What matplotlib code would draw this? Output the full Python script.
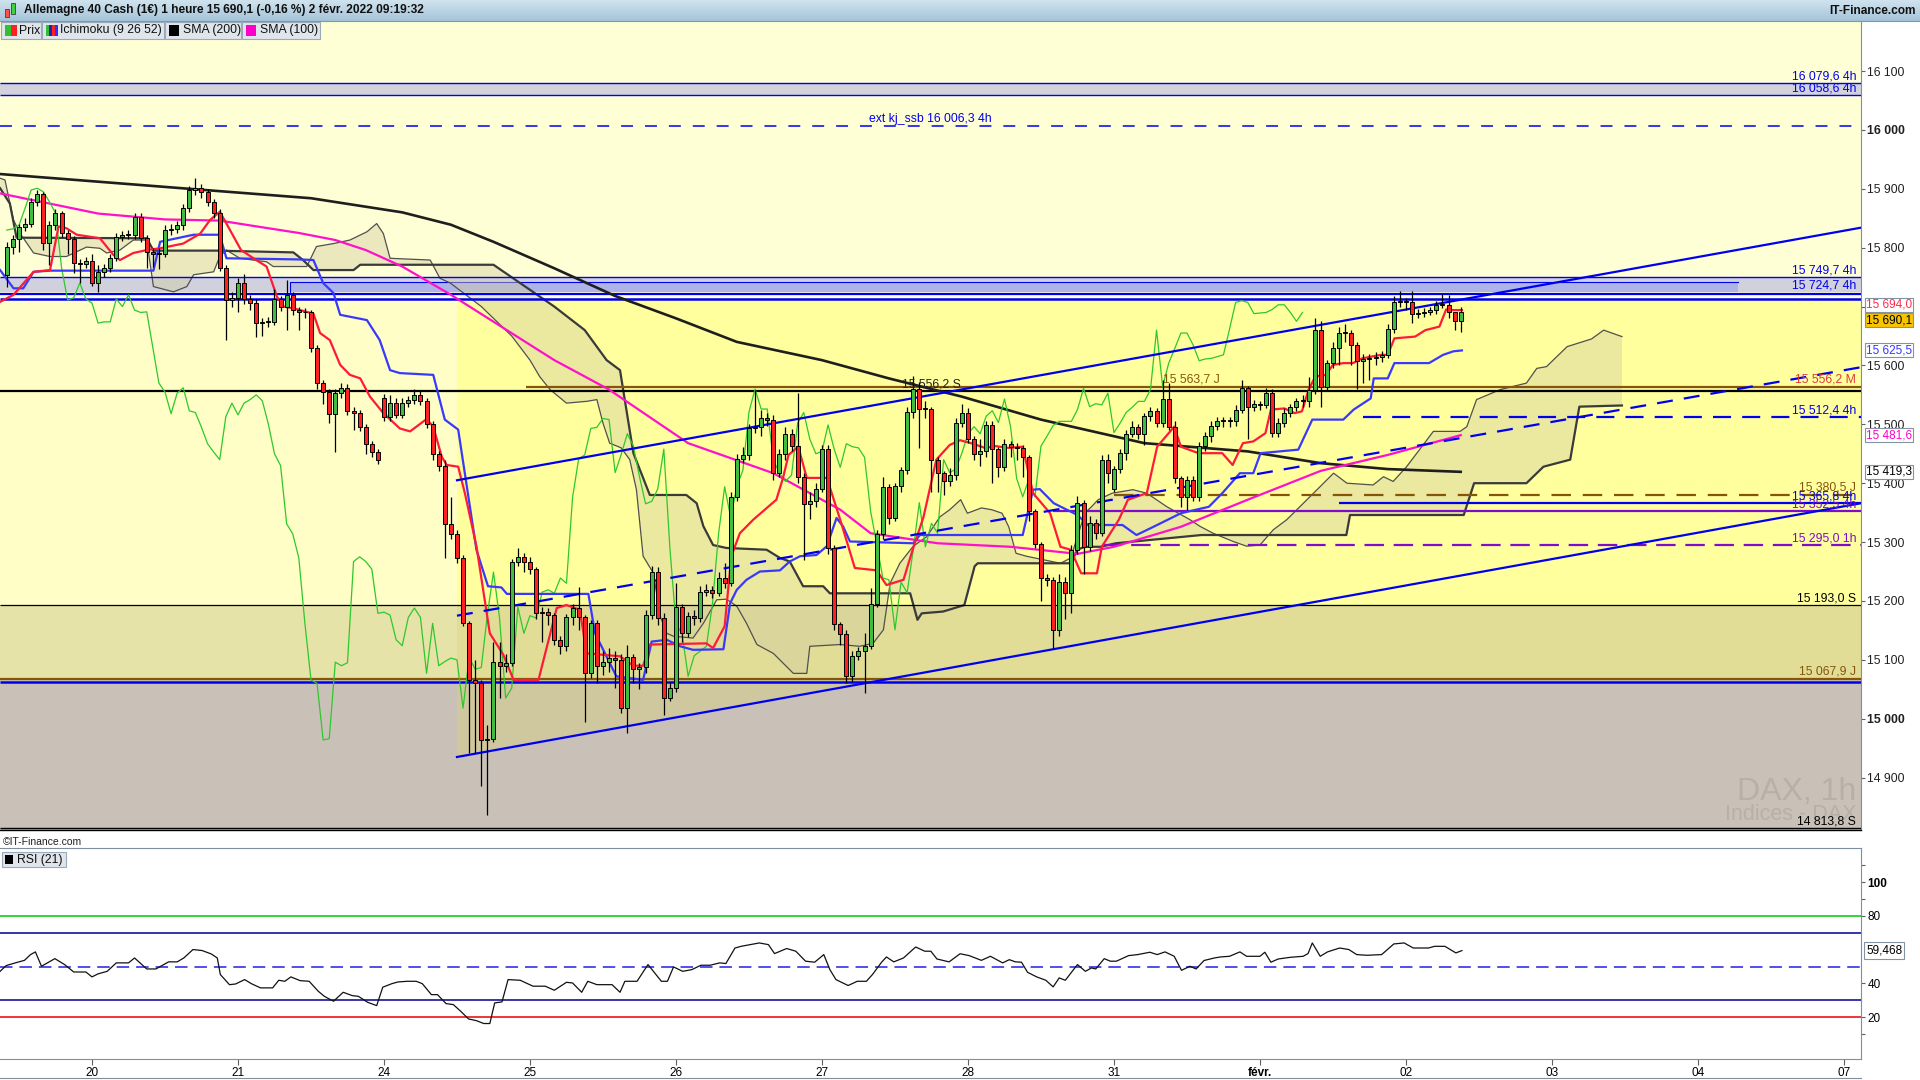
import numpy as np
import matplotlib.pyplot as plt
from matplotlib.patches import Rectangle, Polygon
from matplotlib.colors import LinearSegmentedColormap
import matplotlib.transforms as mtransforms

plt.rcParams['font.family'] = ['Liberation Sans', 'DejaVu Sans']
plt.rcParams['lines.scale_dashes'] = False

# hourly candles, bar 0 = 19 jan 10:00, 24 bars a day
closes = [
    15801, 15815, 15835, 15840, 15878, 15891, 15808, 15838, 15859, 15825, 15815, 15774, 15772, 15777,
    15740, 15759, 15765, 15783, 15818, 15822, 15822, 15852, 15817, 15793, 15790, 15790, 15830, 15832, 15838, 15867, 15898, 15901, 15895, 15878, 15859, 15766, 15711, 15715,
    15740, 15713, 15706, 15672, 15674, 15674, 15713, 15700, 15720, 15694, 15690, 15691, 15630, 15570, 15555, 15518, 15553, 15562, 15523, 15520, 15495, 15467, 15453, 15440,
    15513, 15536, 15516, 15536, 15542, 15550, 15540, 15500, 15450, 15430, 15331, 15314, 15273, 15162, 15066, 15060, 14964, 14966, 15096, 15090, 15095, 15267, 15275, 15267,
    15254, 15179, 15181, 15176, 15134, 15124, 15172, 15188, 15172, 15077, 15162, 15090, 15097, 15103, 15100, 15018, 15104, 15084, 15087, 15177, 15249, 15171, 15035, 15052,
    15190, 15145, 15175, 15171, 15215, 15219, 15213, 15239, 15230, 15376, 15441, 15448, 15493, 15495, 15510, 15508, 15418, 15449, 15484, 15463, 15411, 15365, 15369, 15390,
    15458, 15290, 15161, 15144, 15072, 15107, 15115, 15123, 15195, 15314, 15394, 15341, 15395, 15422, 15521, 15560, 15526, 15526, 15440, 15417, 15403, 15414, 15502, 15520,
    15475, 15450, 15454, 15499, 15458, 15427, 15467, 15462, 15460, 15444, 15352, 15297, 15239, 15236, 15151, 15232, 15214, 15287, 15367, 15292, 15332, 15315, 15440, 15418,
    15424, 15451, 15484, 15496, 15484, 15514, 15523, 15503, 15543, 15496, 15408, 15377, 15406, 15377, 15463, 15480, 15498, 15505, 15505, 15505, 15525, 15561, 15530, 15535,
    15533, 15553, 15486, 15502, 15520, 15529, 15539, 15539, 15559, 15660, 15564, 15604, 15629, 15655, 15655, 15635, 15608, 15611, 15612, 15615, 15618, 15662, 15707, 15710,
    15707, 15688, 15689, 15690, 15695, 15703, 15703, 15690, 15675, 15690.1]
highs = [
    15810, 15822, 15840, 15850, 15884, 15898, 15895, 15845, 15866, 15862, 15830, 15820, 15780, 15785,
    15790, 15770, 15772, 15790, 15825, 15828, 15830, 15859, 15859, 15822, 15800, 15800, 15838, 15840, 15845, 15874, 15905, 15918, 15908, 15900, 15883, 15865, 15770, 15725,
    15748, 15755, 15720, 15712, 15680, 15682, 15730, 15718, 15745, 15725, 15700, 15698, 15695, 15635, 15575, 15560, 15560, 15570, 15568, 15530, 15525, 15500, 15472, 15458,
    15552, 15550, 15545, 15545, 15548, 15560, 15556, 15545, 15505, 15455, 15440, 15377, 15320, 15278, 15166, 15100, 15065, 14990, 15131, 15131, 15110, 15272, 15290, 15282,
    15275, 15258, 15190, 15188, 15180, 15140, 15178, 15195, 15223, 15176, 15168, 15168, 15115, 15120, 15115, 15110, 15125, 15110, 15095, 15185, 15260, 15258, 15180, 15062,
    15230, 15195, 15182, 15185, 15225, 15228, 15226, 15250, 15264, 15385, 15450, 15462, 15500, 15558, 15525, 15520, 15515, 15458, 15495, 15492, 15553, 15418, 15385, 15400,
    15465, 15465, 15295, 15165, 15150, 15115, 15122, 15145, 15222, 15320, 15410, 15398, 15400, 15428, 15530, 15582, 15572, 15540, 15530, 15445, 15420, 15425, 15510, 15535,
    15528, 15480, 15475, 15505, 15505, 15462, 15475, 15472, 15468, 15465, 15448, 15356, 15300, 15245, 15240, 15245, 15240, 15295, 15378, 15372, 15345, 15340, 15448, 15450,
    15430, 15458, 15490, 15505, 15500, 15520, 15530, 15528, 15575, 15570, 15505, 15412, 15412, 15412, 15470, 15487, 15505, 15512, 15512, 15512, 15532, 15575, 15565, 15542,
    15540, 15562, 15560, 15510, 15528, 15535, 15545, 15550, 15580, 15680, 15675, 15610, 15640, 15665, 15670, 15660, 15640, 15620, 15620, 15622, 15625, 15670, 15718, 15727,
    15715, 15727, 15696, 15697, 15700, 15710, 15722, 15720, 15690, 15700]
lows = [
    15733, 15790, 15793, 15828, 15835, 15870, 15796, 15770, 15830, 15818, 15790, 15757, 15740, 15765,
    15735, 15725, 15750, 15758, 15778, 15812, 15815, 15815, 15810, 15765, 15767, 15764, 15785, 15822, 15825, 15830, 15860, 15890, 15885, 15870, 15850, 15760, 15643, 15700,
    15690, 15705, 15695, 15648, 15650, 15665, 15668, 15692, 15660, 15685, 15660, 15680, 15622, 15560, 15535, 15502, 15453, 15545, 15515, 15490, 15488, 15450, 15445, 15432,
    15505, 15505, 15510, 15510, 15530, 15535, 15532, 15494, 15440, 15420, 15273, 15305, 15265, 15158, 14942, 14942, 14885, 14837, 14960, 15035, 15080, 15090, 15260, 15250,
    15245, 15170, 15131, 15160, 15125, 15110, 15115, 15160, 15150, 14995, 15070, 15060, 15075, 15080, 15052, 15010, 14976, 15060, 15050, 15078, 15170, 15160, 15007, 15030,
    15045, 15130, 15138, 15160, 15165, 15208, 15205, 15208, 15222, 15225, 15370, 15435, 15440, 15485, 15480, 15498, 15405, 15410, 15440, 15455, 15400, 15270, 15340, 15360,
    15385, 15280, 15150, 15125, 15060, 15062, 15100, 15043, 15118, 15190, 15305, 15330, 15335, 15385, 15415, 15510, 15460, 15510, 15385, 15385, 15380, 15395, 15405, 15495,
    15468, 15440, 15430, 15445, 15400, 15410, 15420, 15445, 15440, 15410, 15335, 15290, 15200, 15225, 15120, 15140, 15170, 15180, 15280, 15245, 15285, 15305, 15310, 15400,
    15385, 15418, 15440, 15478, 15475, 15465, 15505, 15495, 15495, 15490, 15400, 15360, 15355, 15370, 15370, 15455, 15470, 15490, 15495, 15495, 15498, 15520, 15475, 15522,
    15525, 15528, 15478, 15478, 15495, 15512, 15522, 15530, 15530, 15552, 15530, 15558, 15595, 15600, 15640, 15600, 15560, 15570, 15575, 15600, 15605, 15612, 15655, 15700,
    15695, 15672, 15680, 15682, 15685, 15688, 15698, 15680, 15660, 15657]
first_open = 15754
gap_opens = {62: 15545, 182: 15391}

day_ticks = [14, 38, 62, 86, 110, 134, 158, 182, 206, 230, 254, 278, 302]
day_labels = ['20', '21', '24', '25', '26', '27', '28', '31', 'févr.', '02', '03', '04', '07']

sma200_pts = [(-1, 15925), (30, 15900), (50, 15884), (65, 15860), (73, 15839), (80, 15810), (90, 15765),
              (100, 15718), (110, 15680), (120, 15640), (134, 15609), (145, 15578), (157, 15547), (170, 15508),
              (187, 15468), (204, 15454), (216, 15434), (227, 15424), (239, 15419.3)]
sma100_pts = [(-1, 15892), (15, 15858), (26, 15848), (35, 15846), (43, 15833), (48, 15825), (54, 15813),
              (59, 15796), (65, 15768), (73, 15720), (90, 15609), (99, 15559), (112, 15468), (126, 15417),
              (137, 15355), (142, 15315), (153, 15298), (165, 15292), (176, 15280), (182, 15292), (193, 15326),
              (204, 15372), (216, 15421), (227, 15448), (239, 15481.6)]
tenkan_pts = [(-1.1, 15708), (1.1, 15720), (4.4, 15759), (7.1, 15762), (8.5, 15836), (9.8, 15833), (11.5, 15822),
              (15.3, 15816), (17.5, 15788), (18.6, 15779), (20.8, 15791), (23, 15796), (25.2, 15799), (29, 15807),
              (31.8, 15824), (33.4, 15847), (35, 15861), (36.1, 15841), (38.5, 15796), (41, 15779), (42.7, 15768),
              (44.4, 15717), (45.5, 15700), (47.1, 15697), (49.3, 15691), (50.4, 15688), (51.5, 15655), (53.1, 15643),
              (54.8, 15601), (56.4, 15584), (58.1, 15578), (59.7, 15547), (61.9, 15519), (64.6, 15493), (66.3, 15488),
              (69, 15509), (70.1, 15496), (71.5, 15445), (72.3, 15431), (74.2, 15428), (75.3, 15383), (77.2, 15293),
              (79.4, 15145), (81.6, 15109), (83.3, 15066), (87.4, 15066), (90.4, 15188), (92, 15193), (94.2, 15185),
              (95.3, 15111), (100.8, 15106), (103, 15090), (104.6, 15090), (105.7, 15126), (115, 15128), (116.1, 15120),
              (118, 15157), (119.1, 15276), (120.5, 15315), (122.7, 15338), (126.5, 15372), (127.6, 15409),
              (128.5, 15448), (130.1, 15462), (131.5, 15409), (134.8, 15409), (137, 15338), (139.4, 15256),
              (143, 15252), (144.6, 15227), (147.4, 15236), (149, 15290), (150.7, 15343), (152.8, 15440), (155, 15465),
              (156.7, 15473), (158.5, 15468), (160.8, 15460), (162.5, 15463), (164.7, 15460), (167, 15462),
              (168.7, 15383), (171.5, 15349), (173.2, 15292), (174.9, 15287), (176.6, 15247), (179.2, 15247),
              (180, 15292), (182.8, 15338), (184.3, 15372), (187.4, 15383), (189.1, 15462), (191.9, 15496), (193, 15462),
              (195.9, 15451), (199.8, 15451), (201.5, 15431), (203.2, 15468), (204.9, 15471), (206.9, 15485),
              (207.8, 15525), (210, 15527), (211.7, 15519), (212.9, 15522), (214, 15559), (215.1, 15581), (216.8, 15584),
              (218, 15601), (219.7, 15604), (221.3, 15604), (222.8, 15612), (225.9, 15618), (227, 15618), (228.1, 15646),
              (231.5, 15649), (233.2, 15660), (235.5, 15666), (236.6, 15695), (237.8, 15694), (239.2, 15694)]
kijun_pts = [(-1.1, 15762), (1.1, 15731), (2.7, 15731), (4.4, 15759), (7.1, 15761), (24.1, 15761), (25.2, 15810),
             (30.7, 15822), (35, 15822), (36.1, 15782), (48.2, 15780), (50.4, 15779), (52, 15740), (53.7, 15723),
             (54.8, 15686), (59.2, 15677), (61.3, 15643), (63, 15592), (64.6, 15587), (70.1, 15584), (72, 15508),
             (74.2, 15491), (77.2, 15287), (79.1, 15225), (81.3, 15223), (82.2, 15212), (95.6, 15212), (96.7, 15145),
             (100.2, 15072), (104.6, 15066), (106, 15131), (108.5, 15134), (110.7, 15123), (112.8, 15117),
             (117.8, 15118), (118.9, 15196), (120, 15219), (121.6, 15236), (123.8, 15250), (127.1, 15252),
             (128.7, 15267), (130.4, 15276), (133.1, 15278), (134.8, 15293), (136.4, 15341), (137.5, 15326),
             (138.6, 15301), (149, 15298), (150.1, 15312), (167, 15312), (168.7, 15389), (169.8, 15390),
             (172.1, 15366), (176, 15346), (177.7, 15329), (183.4, 15329), (185.7, 15312), (188.5, 15326),
             (193, 15349), (197.6, 15360), (199.8, 15383), (202.7, 15417), (204.9, 15417), (206.1, 15451),
             (212.3, 15457), (214.6, 15508), (219.7, 15508), (221.4, 15525), (224.2, 15544), (224.7, 15578),
             (227, 15578), (228.1, 15604), (233.8, 15604), (236.1, 15618), (237.8, 15624), (239.2, 15625.5)]
span_a_pts = [(-1.1, 15918), (-0.3, 15915), (1.1, 15847), (2.2, 15824), (4.4, 15791), (7.1, 15785), (9.8, 15785),
              (13.1, 15801), (15.3, 15799), (16.4, 15791), (18.6, 15796), (20.8, 15813), (23, 15813), (24.1, 15734),
              (27.4, 15725), (29.6, 15734), (30.7, 15754), (34, 15759), (35, 15785), (36.1, 15796), (38.3, 15782),
              (42.7, 15776), (43.8, 15768), (49.3, 15768), (50.9, 15802), (53.7, 15807), (56.4, 15813), (59.2, 15827),
              (60.8, 15841), (61.9, 15824), (63, 15782), (69.6, 15779), (71.2, 15748), (72.9, 15740), (78, 15700),
              (83, 15650), (86, 15609), (87.6, 15581), (89.3, 15559), (92, 15536), (95.3, 15539), (97, 15542),
              (98, 15502), (99.1, 15468), (101, 15460), (102.4, 15440), (103.5, 15389), (104.6, 15276), (106.3, 15247),
              (107.4, 15174), (108.5, 15145), (109.6, 15140), (112.8, 15137), (114.5, 15162), (116.7, 15202),
              (118.3, 15203), (120, 15191), (121.6, 15162), (123.3, 15126), (126, 15111), (129.3, 15077),
              (131.5, 15077), (132, 15123), (137, 15126), (140.2, 15123), (142.4, 15128), (144.1, 15151),
              (145.2, 15230), (146.8, 15264), (149, 15293), (151.2, 15309), (153.4, 15343), (155, 15355),
              (156.8, 15372), (157.9, 15349), (160.2, 15358), (161.9, 15355), (163.6, 15349), (164.7, 15326),
              (165.9, 15281), (167.6, 15276), (170.4, 15270), (173.2, 15264), (174.9, 15273), (177.2, 15349),
              (178.3, 15360), (179.4, 15372), (181.7, 15383), (185.1, 15389), (187.4, 15383), (190.7, 15360),
              (194.5, 15338), (196.1, 15327), (198.3, 15315), (201.6, 15301), (203.8, 15293), (206, 15295),
              (208.2, 15321), (210.4, 15338), (214.8, 15383), (218.1, 15417), (220.3, 15400), (224.6, 15397),
              (226.3, 15411), (227.9, 15403), (230.1, 15428), (234.5, 15488), (238.9, 15488), (240, 15496),
              (241.6, 15542), (245.5, 15559), (249.8, 15570), (251.5, 15595), (253.1, 15598), (256.5, 15632),
              (260.5, 15645), (262.5, 15660), (265.5, 15649)]
span_b_pts = [(-1.1, 15901), (0.5, 15875), (1.6, 15817), (23, 15816), (24.1, 15795), (34.5, 15795), (47.1, 15792),
              (48.7, 15779), (50.4, 15762), (57, 15762), (58.1, 15771), (80, 15771), (90, 15700), (95, 15660),
              (98.6, 15609), (100.8, 15592), (103, 15451), (105.7, 15380), (111.7, 15380), (113.4, 15366),
              (114.5, 15327), (116.1, 15295), (118.3, 15290), (124.9, 15287), (127.1, 15273), (128.7, 15267),
              (130.9, 15225), (134.2, 15225), (135.3, 15213), (148.5, 15213), (149.7, 15168), (150.4, 15179),
              (153.9, 15182), (157.4, 15193), (159.1, 15259), (159.6, 15264), (174.9, 15264), (176, 15287),
              (177.2, 15292), (179.8, 15292), (182.3, 15298), (196.4, 15312), (220.2, 15312), (220.8, 15346),
              (239.5, 15346), (241.2, 15400), (249.8, 15400), (252.6, 15428), (257, 15440), (258.5, 15530),
              (265.5, 15532)]
rsi_pts = [(-1.1, 47.2), (-0.1, 50.6), (1.4, 52.2), (2.9, 53.7), (3.9, 57.1), (4.7, 58.7), (5.7, 50.2), (7.9, 54.7),
           (9.5, 51.2), (11, 46.8), (13, 46.8), (14, 43.9), (15, 45.7), (16.5, 47.2), (18, 52.2), (20, 52.2),
           (21, 55.1), (23, 48.6), (24.5, 48.6), (26.6, 52.8), (28, 52.8), (29.1, 55.1), (30.6, 60.1), (32.1, 59.5),
           (33.6, 57.5), (34.6, 55.1), (35.1, 45.3), (36.6, 39.3), (37.6, 39.7), (39.1, 42.3), (40.2, 39.9),
           (41.7, 37.4), (43.7, 37.4), (44.7, 41.9), (45.7, 41.3), (46.7, 43.9), (48.2, 41.7), (49.7, 41.3),
           (51.2, 35.4), (52.2, 32.4), (53.7, 29.5), (55.3, 34.8), (56.8, 32.8), (57.8, 32.4), (59.3, 28.9),
           (60.8, 26.9), (61.8, 37.8), (63.3, 39.9), (64.3, 40.9), (65.8, 41.3), (67.3, 41.3), (68.3, 39.9),
           (69.8, 33.4), (70.8, 33.4), (72.2, 28.1), (73.4, 27.5), (74.6, 23.6), (75.9, 19.0), (77.2, 18.0),
           (78.4, 16.3), (79.4, 16.3), (80.2, 28.5), (81.4, 29.1), (82.4, 42.3), (84.4, 41.9), (86.5, 38.4),
           (88.5, 38.4), (90, 36.0), (92, 40.7), (93, 40.3), (94.5, 34.8), (95.5, 41.3), (97, 39.3), (99.5, 39.3),
           (100.8, 34.8), (101.6, 41.3), (103.6, 41.3), (105.4, 51.2), (107.6, 41.3), (108.6, 41.3), (109.6, 49.8),
           (111.1, 47.2), (112.6, 48.2), (114.1, 50.8), (115.6, 50.8), (117.2, 52.2), (118.2, 51.8), (119.7, 61.0),
           (120.7, 62.0), (122.2, 63.0), (123.7, 64.0), (125.2, 63.0), (126.2, 57.7), (128.2, 60.7), (129.7, 59.1),
           (131.3, 53.2), (132.8, 52.6), (134.3, 57.1), (135.3, 48.2), (136.3, 42.3), (138.3, 38.8), (139.8, 41.3),
           (141.3, 41.3), (142.3, 45.3), (143.8, 52.6), (144.6, 55.7), (145.8, 52.8), (147.4, 55.1), (149.4, 61.6),
           (150.9, 59.1), (151.9, 59.1), (152.9, 54.5), (154.9, 52.8), (156.7, 57.6), (158.2, 56.5), (160.2, 53.7),
           (161.7, 56.1), (163.7, 52.2), (164.8, 54.1), (165.8, 52.8), (166.8, 52.6), (167.8, 46.6), (169.3, 43.9),
           (170.8, 41.9), (172, 38.0), (173, 43.3), (174, 41.9), (176, 51.2), (177.3, 47.2), (178.3, 49.2),
           (179, 48.6), (180.4, 54.7), (181.4, 53.2), (182.4, 53.2), (184.4, 56.5), (185.9, 57.1), (187.9, 58.5),
           (189.1, 57.1), (190.4, 58.7), (191.9, 56.1), (193.1, 47.8), (194.5, 50.2), (195.5, 48.6), (196.8, 53.6),
           (198.5, 55.1), (199.5, 55.7), (201, 56.1), (202.7, 58.7), (203.8, 56.1), (206, 56.1), (206.8, 58.5),
           (207.8, 52.6), (209, 54.5), (211, 55.5), (213.1, 56.1), (213.9, 57.7), (214.6, 64.0), (215.9, 56.1),
           (217.1, 58.7), (219.1, 61.0), (220.6, 60.1), (221.9, 57.1), (223.6, 56.7), (226, 57.1), (228, 63.4),
           (229.7, 64.0), (231.2, 61.0), (233.7, 61.0), (234.7, 62.0), (236.4, 62.0), (238.2, 58.1), (239.2, 59.468)]

# trend lines (bar, price) end points
trend_upper = [(74, 15405), (304.8, 15834)]
trend_lower = [(74, 14935), (304.8, 15366)]
trend_dashed = [(74, 15175), (304.8, 15597)]

level_names = ['r16079', 'r16058', 'ssb16006', 'r15749', 'r15724', 'b15721', 'b15712', 'j15563', 'm15556',
               'h15512', 'j15380', 'h15365', 'h15352', 'h15295', 's15193', 'j15067', 'b15063', 's14813']
level_values = [16079.6, 16058.6, 16006.3, 15749.7, 15724.7, 15721.0, 15712.0, 15563.7, 15556.2,
                15512.4, 15380.5, 15365.8, 15352.5, 15295.0, 15193.0, 15067.9, 15063.0, 14813.8]
L = dict(zip(level_names, level_values))

price_ticks = list(range(14900, 16101, 100))
hidden_price_labels = [15700]          # covered by the last-price boxes
rsi_ticks = [10, 20, 40, 80, 90, 100, 110]
rsi_tick_labels = ['', '20', '40', '80', '', '100', '']

title = "Allemagne 40 Cash (1€) 1 heure 15 690,1 (-0,16 %) 2 févr. 2022 09:19:32"

# ---------------------------------------------------------------- layout
W, H = 1920, 1080
XL, XR = -1.12, 304.8
BLUE = '#0000f0'
BROWN = '#85560a'
PURPLE = '#7d0ccc'

fig = plt.figure(figsize=(19.2, 10.8), dpi=100)
fig.patch.set_facecolor('white')

ax = fig.add_axes([0, 1 - 830 / H, 1861 / W, (830 - 21) / H])
rx = fig.add_axes([0, 1 - 1059 / H, 1861 / W, (1059 - 848) / H], sharex=ax)
ax.set_xlim(XL, XR)
ax.set_ylim(14811, 16185)
ax.set_facecolor('#ffffd6')

# background zones
ax.fill_between([XL, 74], L['s15193'], L['b15712'], color='#fefec6', lw=0, zorder=0)
ax.fill_between([74, XR], L['s15193'], L['b15712'], color='#ffff9e', lw=0, zorder=0)
ax.fill_between([XL, 74], L['j15067'], L['s15193'], color='#e5e3a7', lw=0, zorder=0)
ax.fill_between([74, XR], L['j15067'], L['s15193'], color='#e1dd97', lw=0, zorder=0)
ax.fill_between([XL, XR], 14811, L['j15067'], color='#c9c1b7', lw=0, zorder=0)
slope = (trend_lower[1][1] - trend_lower[0][1]) / (trend_lower[1][0] - trend_lower[0][0])
x_cross = trend_lower[0][0] + (L['j15067'] - trend_lower[0][1]) / slope
ax.add_patch(Polygon([(74, trend_lower[0][1]), (x_cross, L['j15067']), (74, L['j15067'])],
                     closed=True, fc='#cfc79d', ec='none', zorder=0.5))
ax.fill_between([XL, XR], L['r16058'], L['r16079'], color='#d2d2db', lw=0, zorder=0.6)
ax.fill_between([XL, XR], L['r15724'], L['r15749'], color='#d0d1dc', lw=0, zorder=0.6)
ax.add_patch(Rectangle((46.5, L['r15724']), 238, 15741 - L['r15724'], fc='#aeb3e8', ec='none', zorder=0.7))
ax.plot([46.5, 46.5, 284.5], [L['r15724'], 15741, 15741], color=BLUE, lw=0.8, zorder=0.75)

ax.text(304, 14862, 'DAX, 1h', ha='right', va='baseline', fontsize=23, color='#b8b0a8', zorder=0.8)
ax.text(304, 14828, 'Indices - DAX', ha='right', va='baseline', fontsize=15.5, color='#b8b0a8', zorder=0.8)


def hline(y, x0=XL, c=BLUE, lw=1.44, dashes=None, z=3):
    ln, = ax.plot([x0, XR], [y, y], color=c, lw=lw, zorder=z, solid_capstyle='butt')
    if dashes:
        ln.set_dashes(dashes)


hline(L['r16079'], lw=1.0)
hline(L['r16058'], lw=1.0)
hline(L['ssb16006'], lw=1.1, dashes=(8.6, 8.6))
hline(L['r15749'], lw=1.0)
hline(L['b15721'], lw=1.6)
hline(L['b15712'], lw=1.8)
hline(L['j15563'], x0=85.3, c=BROWN, lw=1.6)
hline(L['m15556'], c='black', lw=1.6)
hline(L['h15512'], x0=223, lw=1.6, dashes=(13, 8))
hline(L['j15380'], x0=182, c=BROWN, lw=1.6, dashes=(14, 8.5))
hline(L['h15365'], x0=219, lw=1.6)
hline(L['h15352'], x0=172, c=PURPLE, lw=1.6)
hline(L['h15295'], x0=180, c=PURPLE, lw=1.6, dashes=(14, 7))
hline(L['s15193'], c='black', lw=0.9)
hline(L['j15067'], c=BROWN, lw=1.6)
hline(L['b15063'], lw=1.8)
hline(L['s14813'], c='black', lw=1.0)

for pts, dash in [(trend_upper, None), (trend_lower, None), (trend_dashed, (11.5, 8))]:
    ln, = ax.plot([p[0] for p in pts], [p[1] for p in pts], color=BLUE, lw=1.6, zorder=5)
    if dash:
        ln.set_dashes(dash)

# level labels at the right edge
right_labels = [('16 079,6 4h', 'r16079', BLUE), ('16 058,6 4h', 'r16058', BLUE),
                ('15 749,7 4h', 'r15749', BLUE), ('15 724,7 4h', 'r15724', BLUE),
                ('15 556,2 M', 'j15563', '#e03a3a'), ('15 512,4 4h', 'h15512', BLUE),
                ('15 380,5 J', 'j15380', BROWN), ('15 365,8 4h', 'h15365', BLUE),
                ('15 352,5 4h', 'h15352', PURPLE), ('15 295,0 1h', 'h15295', PURPLE),
                ('15 193,0 S', 's15193', 'black'), ('15 067,9 J', 'j15067', BROWN),
                ('14 813,8 S', 's14813', 'black')]
for txt, key, col in right_labels:
    ax.text(304, L[key] + 1.5, txt, ha='right', va='bottom', color=col, fontsize=8.8, zorder=9)
ax.text(151.8, L['ssb16006'] + 1.5, 'ext kj_ssb 16 006,3 4h', ha='center', va='bottom', color=BLUE,
        fontsize=8.8, zorder=9)
ax.text(147.2, L['m15556'] + 2, '15 556,2 S', ha='left', va='bottom', color='#202020', fontsize=8.8, zorder=9)
ax.text(190, L['j15563'] + 2, '15 563,7 J', ha='left', va='bottom', color=BROWN, fontsize=8.8, zorder=9)

# ichimoku cloud
cloud = Polygon(list(span_a_pts) + list(reversed(span_b_pts)), closed=True, fc='#d3cda2', alpha=0.45,
                ec='none', zorder=2)
ax.add_patch(cloud)
ax.plot(*zip(*span_a_pts), color='#505050', lw=0.9, zorder=2.5)
ax.plot(*zip(*span_b_pts), color='#3a3a3a', lw=1.6, zorder=2.5)

# moving averages and ichimoku lines
ax.plot(*zip(*sma200_pts), color='#1e1e1e', lw=1.9, zorder=4)
ax.plot(*zip(*sma100_pts), color='#ff10cc', lw=1.6, zorder=4)

x = np.arange(len(closes))
c = np.array(closes, float)
o = np.r_[first_open, c[:-1]]
for k, v in gap_opens.items():
    o[k] = v
h = np.maximum(np.array(highs, float), np.maximum(o, c))
lo = np.minimum(np.array(lows, float), np.minimum(o, c))

ax.plot(x[:-26], c[26:], color='#2ec82e', lw=0.9, zorder=4)
ax.plot(*zip(*kijun_pts), color='#3838ff', lw=1.6, zorder=4.2)
ax.plot(*zip(*tenkan_pts), color='#ff1a3a', lw=1.6, zorder=4.3)

up = c >= o
ax.vlines(x, lo, h, color='black', lw=0.9, zorder=6)
ax.bar(x, np.maximum(np.abs(c - o), 1.6), bottom=np.minimum(o, c), width=0.66,
       color=np.where(up, '#40bd40', '#ff2020'), edgecolor='black', linewidth=0.7, zorder=7)

# axes styling
ax.yaxis.tick_right()
ax.set_yticks(price_ticks)
ax.set_yticklabels(['' if v in hidden_price_labels else f'{v:,}'.replace(',', ' ') for v in price_ticks])
for t, v in zip(ax.get_yticklabels(), price_ticks):
    if v % 1000 == 0:
        t.set_fontweight('bold')
ax.tick_params(axis='y', direction='out', length=3, width=0.8, color='#606060', labelsize=8.8, pad=1.5,
               labelcolor='#202020')
ax.tick_params(axis='x', bottom=False, labelbottom=False)
for s in ['top', 'left']:
    ax.spines[s].set_visible(False)
ax.spines['bottom'].set_color('black')
ax.spines['bottom'].set_linewidth(1.0)
ax.spines['right'].set_color('#7f8fa0')

# value boxes on the price axis
tr = mtransforms.blended_transform_factory(ax.transAxes, ax.transData)
boxes = [('15 694,0', 15703, '#ff2a4a', 'white'), ('15 690,1', 15677, 'black', '#f6c400'),
         ('15 625,5', 15625.5, '#3535ff', 'white'), ('15 481,6', 15481.6, '#ff00c8', 'white'),
         ('15 419,3', 15419.3, 'black', 'white')]
for txt, yv, col, bg in boxes:
    ax.text(1.0028, yv, txt, transform=tr, ha='left', va='center', color=col, fontsize=8.5, zorder=10,
            bbox=dict(boxstyle='square,pad=0.08', fc=bg, ec='#8393a3', lw=0.8), clip_on=False)

# ---------------------------------------------------------------- RSI
rx.set_facecolor('white')
rx.set_ylim(-4.7, 120.2)
rx.axhline(80, color='#00c800', lw=1.1)
rx.axhline(70, color='#00008c', lw=1.1)
ln = rx.axhline(50, color='#2020e8', lw=1.1)
ln.set_dashes((9, 5))
rx.axhline(30, color='#00008c', lw=1.1)
rx.axhline(20, color='#e80000', lw=1.1)
rx.plot(*zip(*rsi_pts), color='#111111', lw=0.9)

rx.yaxis.tick_right()
rx.set_yticks(rsi_ticks)
rx.set_yticklabels(rsi_tick_labels)
for t, lab in zip(rx.get_yticklabels(), rsi_tick_labels):
    if lab == '100':
        t.set_fontweight('bold')
rx.tick_params(axis='y', direction='out', length=3, width=0.8, color='#606060', labelsize=8.5, pad=1.5)
rx.set_xticks(day_ticks)
rx.set_xticklabels(day_labels)
for t, lab in zip(rx.get_xticklabels(), day_labels):
    if lab == 'févr.':
        t.set_fontweight('bold')
rx.tick_params(axis='x', direction='out', length=4, width=0.8, color='#606060', labelsize=8.5, pad=2)
rx.spines['left'].set_visible(False)
for s in ['top', 'right', 'bottom']:
    rx.spines[s].set_color('#7f8fa0')
rtr = mtransforms.blended_transform_factory(rx.transAxes, rx.transData)
rx.text(1.0028, rsi_pts[-1][1], '59,468', transform=rtr, ha='left', va='center', fontsize=8.5,
        bbox=dict(boxstyle='square,pad=0.18', fc='white', ec='#8393a3', lw=0.8), clip_on=False)
plt.setp(ax.get_xticklabels(), visible=False)

# ---------------------------------------------------------------- header, legends, captions
hx = fig.add_axes([0, 1 - 21 / H, 1, 21 / H])
grad = np.linspace(0, 1, 32).reshape(-1, 1)
hx.imshow(grad, aspect='auto', extent=[0, 1, 0, 1],
          cmap=LinearSegmentedColormap.from_list('hdr', ['#cfe3ee', '#a5c4d9']))
hx.set_xlim(0, 1)
hx.set_ylim(0, 1)
hx.axis('off')
hx.add_patch(Rectangle((5 / W, 4 / 21), 4 / W, 8 / 21, fc='#ff5050', ec='#404040', lw=0.6))
hx.add_patch(Rectangle((11 / W, 7 / 21), 4 / W, 11 / 21, fc='#40d040', ec='#404040', lw=0.6))
hx.text(24 / W, 0.5, title, ha='left', va='center', fontsize=8.6, fontweight='bold', color='#101010')
hx.text(1 - 4 / W, 0.5, 'IT-Finance.com', ha='right', va='center', fontsize=8.6, fontweight='bold',
        color='#101010')
fig.add_artist(plt.Line2D([0, 1], [1 - 21 / H, 1 - 21 / H], color='#7a98b0', lw=0.8))


def fig_rect(x0, y0, x1, y1, fc, ec='none', lw=0.8):
    fig.add_artist(Rectangle((x0 / W, 1 - y1 / H), (x1 - x0) / W, (y1 - y0) / H, fc=fc, ec=ec, lw=lw,
                             transform=fig.transFigure))


legend_items = [('Prix', 0, 41, ['#30c030', '#ff2020']),
                ('Ichimoku (9 26 52)', 41, 164, ['#30c030', '#2020c0', '#ff2020', '#3030ff']),
                ('SMA (200)', 164, 241, ['#000000']),
                ('SMA (100)', 241, 320, ['#ff00cc'])]
for label, x0, x1, cols in legend_items:
    fig_rect(x0 + 1, 22, x1, 39, '#dfe5eb', '#9aaab8')
    sw = 12 / len(cols) if len(cols) > 1 else 10
    for i, col in enumerate(cols):
        fig_rect(x0 + 5 + i * sw, 25, x0 + 5 + (i + 1) * sw, 36, col)
    fig.text((x0 + 19) / W, 1 - 30.5 / H, label, ha='left', va='center', fontsize=8.8, color='#101010')

fig.text(3 / W, 1 - 842 / H, '©IT-Finance.com', ha='left', va='center', fontsize=7.5, color='#202020')
fig_rect(2, 852, 66, 867, '#dfe5eb', '#9aaab8')
fig_rect(5, 855, 13, 864, 'black')
fig.text(17 / W, 1 - 859.5 / H, 'RSI (21)', ha='left', va='center', fontsize=8.8, color='#101010')
fig.add_artist(plt.Line2D([0, 1861 / W], [1 - 1078 / H, 1 - 1078 / H], color='#7f8fa0', lw=0.8))

fig.savefig('out.png', dpi=100)
